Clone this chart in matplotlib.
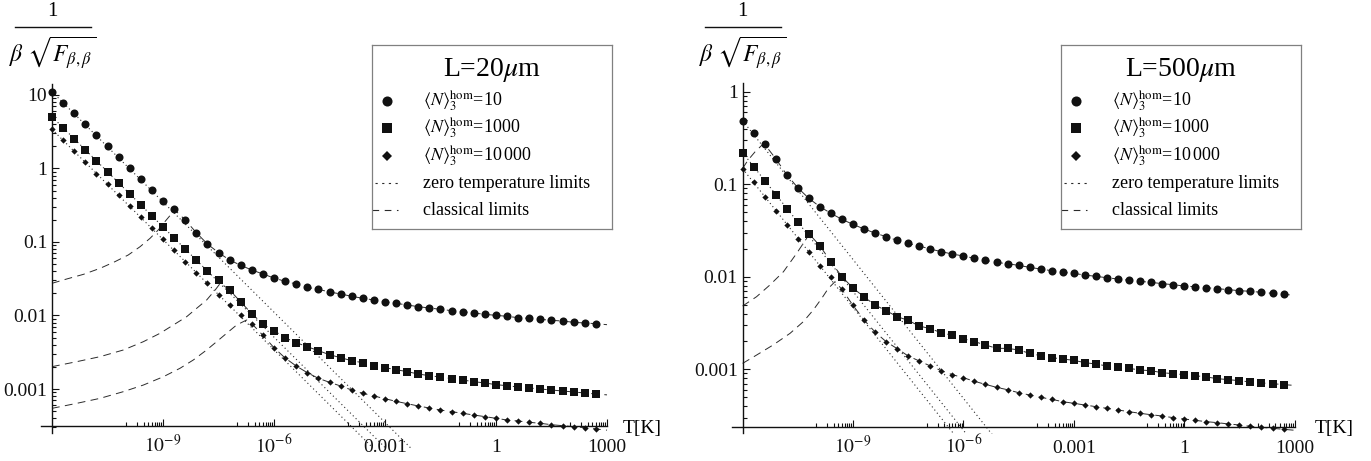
"""Two log-log panels: 1/(beta sqrt(F_beta,beta)) against T for L=20um and L=500um."""
import numpy as np
import matplotlib

matplotlib.use("Agg")
from matplotlib import pyplot as plt
from matplotlib.lines import Line2D
from matplotlib.ticker import NullFormatter

plt.rcParams["font.family"] = ["Liberation Serif", "DejaVu Serif"]
plt.rcParams["mathtext.fontset"] = "stix"

INK, LINE, FRAME = "#111111", "#2b2b2b", "#808080"

# sampled temperatures: 50 points, 0.3 decade apart (1e-12 K ... 500 K)
T = np.logspace(-12, 2.7, 50)

# log10 of 1/(beta sqrt(F)) -- L = 20 um
c20 = [1.045, 0.896, 0.751, 0.601, 0.451, 0.302, 0.152, 0.002, -0.147, -0.297,
       -0.438, -0.556, -0.700, -0.873, -1.027, -1.145, -1.245, -1.317, -1.381, -1.435,
       -1.490, -1.535, -1.571, -1.617, -1.644, -1.680, -1.707, -1.739, -1.766, -1.789,
       -1.812, -1.834, -1.857, -1.880, -1.898, -1.916, -1.934, -1.948, -1.966, -1.984,
       -1.998, -2.011, -2.030, -2.039, -2.052, -2.066, -2.075, -2.093, -2.102, -2.111]
s20 = [0.705, 0.556, 0.401, 0.256, 0.102, -0.048, -0.193, -0.347, -0.497, -0.646,
       -0.796, -0.941, -1.095, -1.245, -1.395, -1.517, -1.653, -1.816, -1.975, -2.116,
       -2.206, -2.302, -2.370, -2.424, -2.479, -2.533, -2.574, -2.615, -2.642, -2.683,
       -2.710, -2.737, -2.764, -2.796, -2.819, -2.837, -2.859, -2.878, -2.900, -2.918,
       -2.941, -2.955, -2.973, -2.986, -3.000, -3.014, -3.027, -3.041, -3.054, -3.068]
d20 = [0.533, 0.383, 0.238, 0.084, -0.070, -0.215, -0.365, -0.510, -0.664, -0.814,
       -0.963, -1.113, -1.268, -1.417, -1.553, -1.717, -1.861, -1.989, -2.111, -2.270,
       -2.438, -2.578, -2.687, -2.778, -2.855, -2.909, -2.959, -3.014, -3.059, -3.095,
       -3.132, -3.168, -3.200, -3.231, -3.259, -3.286, -3.308, -3.331, -3.354, -3.376,
       -3.399, -3.422, -3.435, -3.453, -3.467, -3.486, -3.499, -3.513, -3.526, -3.544]

# L = 500 um
c500 = [-0.313, -0.443, -0.569, -0.724, -0.897, -1.038, -1.153, -1.243, -1.315, -1.380,
        -1.434, -1.484, -1.528, -1.567, -1.607, -1.639, -1.668, -1.701, -1.729, -1.755,
        -1.776, -1.801, -1.823, -1.845, -1.860, -1.877, -1.899, -1.917, -1.935, -1.953,
        -1.964, -1.982, -1.996, -2.011, -2.025, -2.039, -2.050, -2.061, -2.075, -2.086,
        -2.101, -2.108, -2.119, -2.129, -2.140, -2.151, -2.158, -2.169, -2.180, -2.191]
s500 = [-0.659, -0.818, -0.962, -1.117, -1.265, -1.405, -1.535, -1.665, -1.841, -2.000,
        -2.122, -2.219, -2.306, -2.367, -2.432, -2.472, -2.533, -2.562, -2.605, -2.634,
        -2.670, -2.702, -2.738, -2.774, -2.775, -2.792, -2.828, -2.854, -2.875, -2.890,
        -2.904, -2.929, -2.944, -2.965, -2.973, -2.991, -3.009, -3.016, -3.038, -3.048,
        -3.059, -3.070, -3.084, -3.102, -3.113, -3.124, -3.138, -3.149, -3.156, -3.167]
d500 = [-0.832, -0.980, -1.135, -1.286, -1.438, -1.589, -1.733, -1.881, -2.007, -2.137,
        -2.310, -2.468, -2.598, -2.702, -2.778, -2.857, -2.911, -2.965, -3.016, -3.059,
        -3.092, -3.131, -3.164, -3.196, -3.222, -3.254, -3.279, -3.304, -3.326, -3.351,
        -3.369, -3.387, -3.405, -3.423, -3.441, -3.459, -3.477, -3.492, -3.506, -3.524,
        -3.538, -3.553, -3.567, -3.578, -3.592, -3.603, -3.618, -3.628, -3.639, -3.650]

# classical limits: rising low-T branch (log10 T, log10 value), then they run on the points
cl20_c_lt = [-12.0, -11.6, -11.15, -10.7, -10.3, -9.94, -9.62, -9.35, -9.13, -8.95, -8.76]
cl20_c_lg = [-1.562, -1.503, -1.440, -1.358, -1.268, -1.177, -1.064, -0.950, -0.837, -0.724, -0.610]
cl20_s_lt = [-12.0, -11.33, -10.70, -10.07, -9.53, -9.08, -8.72, -8.36, -8.09, -7.82, -7.59, -7.45]
cl20_s_lg = [-2.696, -2.628, -2.560, -2.469, -2.356, -2.242, -2.129, -2.016, -1.902, -1.789, -1.653, -1.56]
cl20_d_lt = [-12.0, -11.33, -10.70, -10.07, -9.53, -8.99, -8.54, -8.18, -7.82, -7.55, -7.28, -7.01, -6.74]
cl20_d_lg = [-3.263, -3.195, -3.127, -3.036, -2.946, -2.833, -2.718, -2.605, -2.469, -2.356, -2.242, -2.129, -2.061]
cl500_c_lt = [-12.0, -11.85, -11.66, -11.48]
cl500_c_lg = [-0.829, -0.738, -0.649, -0.580]
cl500_s_lt = [-12.0, -11.62, -11.26, -10.89, -10.53, -10.26]
cl500_s_lg = [-2.317, -2.216, -2.090, -1.946, -1.747, -1.585]
cl500_d_lt = [-12.0, -11.62, -11.17, -10.71, -10.35, -10.08, -9.85, -9.67, -9.49]
cl500_d_lg = [-2.937, -2.847, -2.738, -2.612, -2.486, -2.360, -2.234, -2.126, -2.054]
# index of the first point the classical curve runs through, and its value at 1000 K
cl20_join, cl20_end = [11, 16, 18], [-2.125, -3.08, -3.56]
cl500_join, cl500_end = [2, 6, 9], [-2.20, -3.175, -3.66]

# zero temperature limits: straight lines (log10 T, log10 value) end points
zt20_lt = [[-12.0, -2.31], [-12.0, -2.99], [-12.0, -3.33]]
zt20_lg = [[1.045, -3.80], [0.705, -3.80], [0.533, -3.80]]
zt500_lt = [[-12.0, -5.19], [-12.0, -5.88], [-12.0, -6.22]]
zt500_lg = [[-0.313, -3.72], [-0.659, -3.72], [-0.832, -3.72]]

W, H = 1371, 461
fig = plt.figure(figsize=(W / 100, H / 100), dpi=100, facecolor="white")

MARK = [("o", 5.8), ("s", 5.2), ("D", 3.2)]
DASH = (0, (8.0, 5.5))
DOT = (0, (1.0, 2.6))


def px_rect(x0, y0, x1, y1):
    return [x0 / W, 1 - y1 / H, (x1 - x0) / W, (y1 - y0) / H]


def panel(rect, ylim, xaxis_at, ybot, yticks, ylabels, series, cl_rise, joins, ends,
          zt_lt, zt_lg, title, leg_rect, ylab_x, tk_x):
    ax = fig.add_axes(rect)
    ax.set_xscale("log")
    ax.set_yscale("log")
    ax.set_xlim(10 ** -12.3, 10 ** 3.05)
    ax.set_ylim(*ylim)

    for i, data in enumerate(series):
        lt, lg = cl_rise[i]
        k0 = joins[i]
        x = np.concatenate([10.0 ** np.array(lt), T[k0:], [1e3]])
        y = np.concatenate([10.0 ** np.array(lg), 10.0 ** np.array(data[k0:]), [10.0 ** ends[i]]])
        ax.plot(x, y, color=LINE, lw=0.7, ls=DASH, zorder=2)
        ax.plot(10.0 ** np.array(zt_lt[i]), 10.0 ** np.array(zt_lg[i]),
                color=LINE, lw=0.8, ls=DOT, zorder=2)
        m, ms = MARK[i]
        ax.plot(T, 10.0 ** np.array(data), ls="none", marker=m, ms=ms, mfc=INK,
                mec=INK, mew=0, zorder=3, clip_on=False)

    for s in ("top", "right"):
        ax.spines[s].set_visible(False)
    ax.spines["left"].set_position(("data", 1e-12))
    ax.spines["bottom"].set_position(("data", xaxis_at))
    ax.spines["left"].set_bounds(ybot, ylim[1])
    ax.spines["bottom"].set_bounds(10 ** -12.3, 1e3)
    for s in ("left", "bottom"):
        ax.spines[s].set_linewidth(1.0)
        ax.spines[s].set_color(INK)

    ax.set_xticks([1e-9, 1e-6, 1e-3, 1, 1e3],
                  [r"$10^{-9}$", r"$10^{-6}$", "0.001", "1", "1000"])
    ax.set_xticks([m * 10.0 ** (n - 1) for n in (-9, -6, -3, 0, 3) for m in range(1, 10)],
                  minor=True)
    ax.xaxis.set_minor_formatter(NullFormatter())
    ax.set_yticks(yticks, ylabels)
    yminor = [m * 10.0 ** n for n in range(-4, 2) for m in range(2, 10)]
    ax.set_yticks([v for v in yminor if ybot * 1.05 <= v <= ylim[1]], minor=True)
    ax.yaxis.set_minor_formatter(NullFormatter())
    ax.tick_params(which="both", direction="in", colors=INK, labelsize=14, width=0.8)
    ax.tick_params(which="major", length=5)
    ax.tick_params(which="minor", length=2.6)
    ax.tick_params(axis="x", pad=19.0)
    ax.tick_params(axis="y", pad=3.5)
    plt.setp(ax.get_xticklabels(), va="baseline")
    ax.patch.set_alpha(0)

    # y label: 1 / (beta sqrt(F)) stacked above the axis
    fig.text(ylab_x / W, 1 - 12 / H, "1", ha="center", va="center", fontsize=15)
    fig.add_artist(Line2D([(ylab_x - 37) / W, (ylab_x + 39) / W], [1 - 27 / H] * 2,
                          transform=fig.transFigure, color=INK, lw=1.0))
    fig.text((ylab_x + 1) / W, 1 - 53 / H, r"$\beta\ \sqrt{F_{\beta,\beta}}$",
             ha="center", va="center", fontsize=17)
    fig.text(tk_x / W, 1 - 428 / H, "T[K]", ha="left", va="center", fontsize=14)

    # legend box
    lg = fig.add_axes(px_rect(*leg_rect))
    lg.set_xlim(0, 240)
    lg.set_ylim(184, 0)
    lg.set_xticks([])
    lg.set_yticks([])
    for s in lg.spines.values():
        s.set_color(FRAME)
        s.set_linewidth(0.9)
    lg.text(120, 25, title, ha="center", va="center", fontsize=20)
    labels = [r"$\langle N\rangle_3^{\mathrm{hom}}$=10", r"$\langle N\rangle_3^{\mathrm{hom}}$=1000",
              r"$\langle N\rangle_3^{\mathrm{hom}}$=10$\,$000"]
    rows = [56, 83, 111]
    for (m, ms), lab, yy, sc in zip(MARK, labels, rows, (1.25, 1.25, 1.45)):
        lg.plot([15], [yy], marker=m, ms=ms * sc, color=INK, mew=0)
        lg.text(51, yy, lab, ha="left", va="center", fontsize=13)
    lg.plot([3, 28], [138, 138], color=LINE, lw=0.8, ls=(0, (2.0, 4.0)))
    lg.text(51, 138, "zero temperature limits", ha="left", va="center", fontsize=13)
    lg.plot([0, 26], [165, 165], color=LINE, lw=0.8, ls=(0, (6.0, 5.0)))
    lg.text(51, 165, "classical limits", ha="left", va="center", fontsize=13)
    return ax


panel(px_rect(40.9, 83.975, 608.85, 447.8), (10 ** -3.8, 10 ** 1.15), 10 ** -3.5, 10 ** -3.6,
      [10, 1, 0.1, 0.01, 0.001], ["10", "1", "0.1", "0.01", "0.001"],
      [c20, s20, d20],
      [(cl20_c_lt, cl20_c_lg), (cl20_s_lt, cl20_s_lg), (cl20_d_lt, cl20_d_lg)],
      cl20_join, cl20_end, zt20_lt, zt20_lg,
      r"L=20$\mu$m", (372, 45, 612, 229), 52, 623)

panel(px_rect(731.56, 83.4, 1296.44, 433.95), (10 ** -3.70, 10 ** 0.09), 10 ** -3.62, 10 ** -3.686,
      [1, 0.1, 0.01, 0.001], ["1", "0.1", "0.01", "0.001"],
      [c500, s500, d500],
      [(cl500_c_lt, cl500_c_lg), (cl500_s_lt, cl500_s_lg), (cl500_d_lt, cl500_d_lg)],
      cl500_join, cl500_end, zt500_lt, zt500_lg,
      r"L=500$\mu$m", (1061, 45, 1301, 229), 742, 1315)

fig.savefig("out.png", dpi=100, facecolor="white")
